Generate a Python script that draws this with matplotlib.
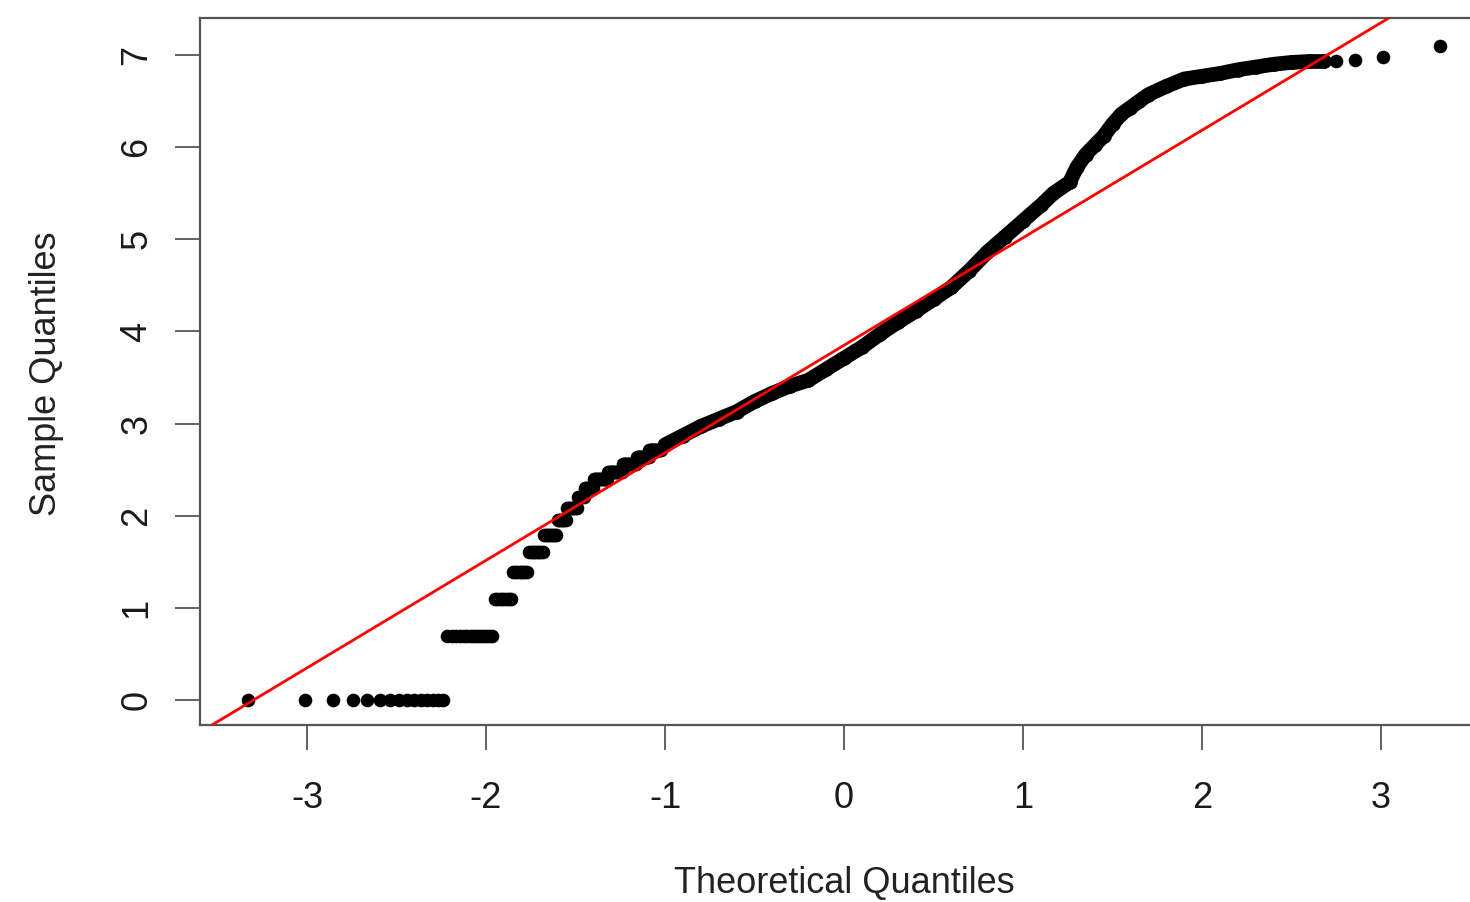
import matplotlib
matplotlib.use("Agg")
import matplotlib.pyplot as plt
from statistics import NormalDist

plt.rcParams["font.family"] = ["Liberation Sans", "DejaVu Sans"]
plt.rcParams["axes.unicode_minus"] = False

# sample size (read from the spacing of the extreme points)
n_obs = 1160

# tied values in the lower tail and how many points sit at each level
tail_levels = [0.0, 0.69, 1.10, 1.39, 1.61, 1.79, 1.95, 2.08, 2.20, 2.30,
               2.40, 2.48, 2.56, 2.64, 2.71]
tail_counts = [15, 14, 8, 8, 9, 9, 7, 9, 6, 9, 14, 17, 18, 17, 18]

# dense middle part: theoretical quantile vs sample quantile
mid_theo = [-1.00, -0.90, -0.80, -0.70, -0.60, -0.50, -0.40, -0.30, -0.20,
            -0.10, 0.00, 0.10, 0.20, 0.30, 0.40, 0.50, 0.60, 0.70, 0.80,
            0.90, 1.00, 1.10, 1.17, 1.26, 1.30, 1.35, 1.40, 1.45, 1.50,
            1.55, 1.60, 1.65, 1.70, 1.80, 1.90, 2.00, 2.10, 2.20, 2.30,
            2.40, 2.50, 2.60, 2.68]
mid_sample = [2.77, 2.87, 2.97, 3.05, 3.13, 3.24, 3.33, 3.41, 3.47,
              3.59, 3.71, 3.83, 3.97, 4.10, 4.22, 4.35, 4.48, 4.66, 4.86,
              5.03, 5.20, 5.37, 5.50, 5.62, 5.78, 5.92, 6.02, 6.12, 6.25,
              6.36, 6.43, 6.50, 6.57, 6.66, 6.74, 6.77, 6.80, 6.84, 6.87,
              6.90, 6.92, 6.93, 6.93]

# the four largest observations (ranks n-3 .. n)
top_sample = [6.93, 6.95, 6.98, 7.10]

# reference line (qqline)
line_intercept = 3.85
line_slope = 1.167

x_ticks = [-3, -2, -1, 0, 1, 2, 3]
y_ticks = [0, 1, 2, 3, 4, 5, 6, 7]

norm = NormalDist()


def theo_q(rank):
    # ppoints for n > 10
    return norm.inv_cdf((rank - 0.5) / n_obs)


tail_x, tail_y = [], []
rank = 0
for level, cnt in zip(tail_levels, tail_counts):
    for _ in range(cnt):
        rank += 1
        tail_x.append(theo_q(rank))
        tail_y.append(level)

top_x = [theo_q(n_obs - len(top_sample) + 1 + i) for i in range(len(top_sample))]

fig = plt.figure(figsize=(14.7, 9.02), dpi=100)
ax = fig.add_axes([200 / 1470, 177 / 902, 1270 / 1470, 707 / 902])

ms = 9.8
ax.plot(tail_x, tail_y, "o", color="black", ms=ms, mew=0)
ax.plot(mid_theo, mid_sample, "-", color="black", lw=ms + 0.8,
        solid_capstyle="round", solid_joinstyle="round")
ax.plot(mid_theo, mid_sample, "o", color="black", ms=ms + 0.8, mew=0)
ax.plot(top_x, top_sample, "o", color="black", ms=ms, mew=0)

ax.axline((0, line_intercept), slope=line_slope, color="red", lw=2.0, zorder=5)

ax.set_xlim(-3.598, 3.497)
ax.set_ylim(-0.271, 7.402)
ax.set_xticks(x_ticks)
ax.set_yticks(y_ticks)

for side in ["left", "bottom", "top"]:
    ax.spines[side].set_color("#555555")
    ax.spines[side].set_linewidth(1.6)
ax.spines["right"].set_visible(False)

ax.tick_params(axis="both", direction="out", length=18, width=1.3,
               color="#555555", labelsize=26, labelcolor="#1a1a1a")
ax.tick_params(axis="x", pad=22)
ax.tick_params(axis="y", pad=15)
for lab in ax.get_yticklabels():
    lab.set_rotation(90)
    lab.set_va("center")

fig.text(844 / 1470, 1 - 893 / 902, "Theoretical Quantiles", ha="center",
         va="baseline", fontsize=26, color="#222222")
fig.text(46 / 1470, 1 - 374 / 902, "Sample Quantiles", ha="center",
         va="center", rotation=90, fontsize=26, color="#222222")

fig.savefig("out.png", dpi=100)
